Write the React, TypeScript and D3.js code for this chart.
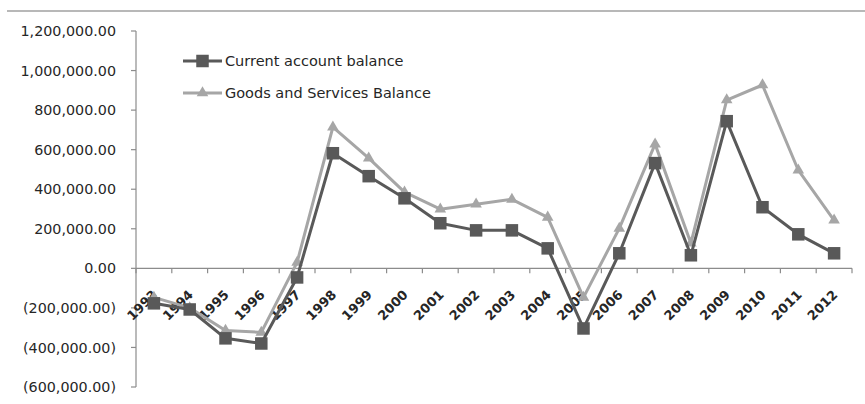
import React from "react";
import * as d3 from "d3";

const years = ["1993","1994","1995","1996","1997","1998","1999","2000","2001","2002","2003","2004","2005","2006","2007","2008","2009","2010","2011","2012"];
const currentAccount = [-177000,-208000,-354000,-380000,-46000,582000,466000,354000,228000,192000,192000,101000,-304000,76000,532000,66000,744000,309000,172000,76000];
const goodsServices = [-147000,-200000,-314000,-324000,30000,714000,557000,385000,299000,324000,349000,258000,-147000,202000,628000,127000,851000,927000,496000,243000];
const yTicks = [1200000,1000000,800000,600000,400000,200000,0,-200000,-400000,-600000];
const seriesNames = ["Current account balance","Goods and Services Balance"];

const W = 865, H = 404;
const FONT = "'DejaVu Sans', sans-serif";
const DARK = "#595959";
const LIGHT = "#a6a6a6";
const AXIS = "#8c8c8c";
const TEXT = "#262626";

function fmt(v: number) {
  const s = d3.format(",.2f")(Math.abs(v));
  return v < 0 ? `(${s})` : s;
}

export default function App() {
  const x = d3.scaleBand<string>().domain(years).range([136, 852]).padding(0);
  const y = d3.scaleLinear().domain([-600000, 1200000]).range([387, 31]);
  const cx = (yr: string) => (x(yr) as number) + x.bandwidth() / 2;
  const line = d3.line<number>().x((_, i) => cx(years[i])).y(d => y(d));
  const tri = d3.symbol().type(d3.symbolTriangle).size(58)() as string;
  const sq = 12.5;

  const boundaries = years.map(yr => x(yr) as number).concat([x.range()[1]]);

  return (
    <svg width={W} height={H} style={{ display: "block", position: "absolute", left: 0, top: 0 }}>
      <rect width={W} height={H} fill="#fff" />
      <line x1={7} x2={W} y1={11} y2={11} stroke="#a0a0a0" strokeWidth={1.5} />
      {/* y axis */}
      <line x1={136} x2={136} y1={y(1200000)} y2={y(-600000)} stroke={AXIS} strokeWidth={1.2} />
      {yTicks.map(t => (
        <g key={t}>
          <line x1={131} x2={136} y1={y(t)} y2={y(t)} stroke={AXIS} strokeWidth={1.2} />
          <text x={116} y={y(t)} dy="0.36em" textAnchor="end" fontFamily={FONT} fontSize={14.3} fill={TEXT}>{fmt(t)}</text>
        </g>
      ))}
      {/* x axis */}
      <line x1={136} x2={852} y1={y(0)} y2={y(0)} stroke={AXIS} strokeWidth={1.2} />
      {boundaries.map((b, i) => (
        <line key={i} x1={b} x2={b} y1={y(0)} y2={y(0) + 5} stroke={AXIS} strokeWidth={1.2} />
      ))}
      {years.map(yr => (
        <text key={yr} transform={`translate(${cx(yr) + 1},${y(0) + 24}) rotate(-45)`} dy="0.35em" textAnchor="end"
          fontFamily={FONT} fontSize={13} fontWeight="bold" fill={TEXT}>{yr}</text>
      ))}
      {/* series */}
      <path d={line(goodsServices) as string} fill="none" stroke={LIGHT} strokeWidth={3} strokeLinejoin="round" />
      {goodsServices.map((v, i) => (
        <path key={i} d={tri} transform={`translate(${cx(years[i])},${y(v)})`} fill={LIGHT} />
      ))}
      <path d={line(currentAccount) as string} fill="none" stroke={DARK} strokeWidth={3} strokeLinejoin="round" />
      {currentAccount.map((v, i) => (
        <rect key={i} x={cx(years[i]) - sq / 2} y={y(v) - sq / 2} width={sq} height={sq} fill={DARK} />
      ))}
      {/* legend */}
      <line x1={183} x2={222} y1={61} y2={61} stroke={DARK} strokeWidth={3} />
      <rect x={202.5 - sq / 2} y={61 - sq / 2} width={sq} height={sq} fill={DARK} />
      <text x={225} y={61} dy="0.36em" fontFamily={FONT} fontSize={14.5} fill={TEXT}>{seriesNames[0]}</text>
      <line x1={183} x2={222} y1={93} y2={93} stroke={LIGHT} strokeWidth={3} />
      <path d={tri} transform="translate(202.5,93)" fill={LIGHT} />
      <text x={225} y={93} dy="0.36em" fontFamily={FONT} fontSize={14.5} fill={TEXT}>{seriesNames[1]}</text>
    </svg>
  );
}
